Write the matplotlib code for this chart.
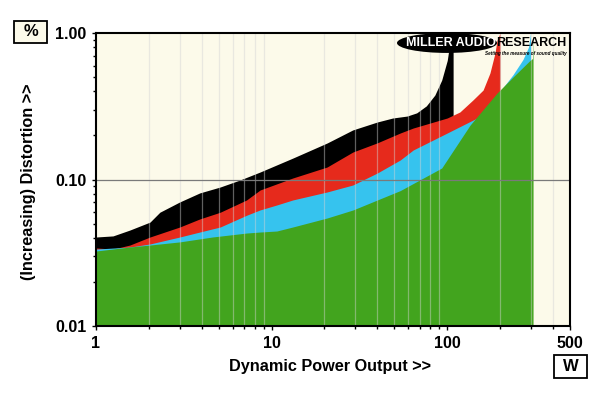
import matplotlib
matplotlib.use("Agg")
import matplotlib.pyplot as plt
from matplotlib.patches import Ellipse, Rectangle

plt.rcParams['font.family'] = ['Liberation Sans', 'DejaVu Sans']
plt.rcParams['font.weight'] = 'bold'

# power (W) and distortion (%), one pair of lists per trace
black_w = [1, 1.25, 1.56, 2.03, 2.31, 3.0, 3.9, 5.1, 6.6, 8.6, 13.2, 20.7, 29, 40, 49, 59,
           67, 76, 85, 93, 100, 104, 108]
black_pct = [0.0405, 0.0412, 0.0452, 0.0512, 0.0598, 0.0703, 0.081, 0.0889, 0.0992, 0.1125,
             0.140, 0.1775, 0.218, 0.247, 0.263, 0.271, 0.285, 0.318, 0.377, 0.477, 0.65,
             0.89, 1.0]

red_w = [1, 1.25, 1.56, 2.03, 3.0, 3.9, 5.1, 7.2, 8.6, 13.2, 20.7, 29, 40, 54, 64, 100,
         118, 140, 160, 175, 187, 192, 200]
red_pct = [0.0341, 0.0335, 0.0357, 0.0405, 0.0474, 0.0538, 0.0598, 0.0725, 0.0848, 0.1024,
           0.1217, 0.154, 0.178, 0.2077, 0.2246, 0.263, 0.289, 0.349, 0.408, 0.533, 0.73,
           0.89, 1.0]

blue_w = [1, 1.56, 2.03, 3.0, 3.9, 5.1, 7.2, 8.6, 10.7, 13.2, 20.7, 29, 40, 54, 64, 100,
          148, 200, 237, 270, 290, 298]
blue_pct = [0.0335, 0.0346, 0.0363, 0.0405, 0.0438, 0.0474, 0.057, 0.062, 0.067, 0.0725,
            0.0822, 0.0917, 0.1108, 0.1359, 0.159, 0.2077, 0.263, 0.40, 0.52, 0.66, 0.80, 1.0]

green_w = [1, 1.56, 2.03, 3.0, 4.6, 7.2, 8.6, 10.7, 13.2, 20.7, 29, 40, 54, 93, 135, 192,
           237, 296, 306, 308]
green_pct = [0.0325, 0.0346, 0.0357, 0.0375, 0.0405, 0.0431, 0.0438, 0.0445, 0.0474, 0.0546,
             0.0619, 0.0725, 0.084, 0.1198, 0.2355, 0.389, 0.501, 0.65, 0.67, 1.0]

x_ticks = [1, 10, 100, 500]
x_ticklabels = ["1", "10", "100", "500"]
y_ticks = [0.01, 0.1, 1.0]
y_ticklabels = ["0.01", "0.10", "1.00"]

fig = plt.figure(figsize=(6, 3.93), dpi=100)
ax = fig.add_axes([0.16, 0.1705, 0.79, 0.7455])
ax.set_facecolor("#fcfaea")

ax.set_xscale("log")
ax.set_yscale("log")
ax.set_xlim(1, 500)
ax.set_ylim(0.01, 1)

traces = [(black_w, black_pct, "#000000"),
          (red_w, red_pct, "#e62a1c"),
          (blue_w, blue_pct, "#36c3ee"),
          (green_w, green_pct, "#42a41e")]
for w, pct, c in traces:
    ax.fill_between(w, pct, 0.01, color=c, lw=0, zorder=2)

# grid on top of the fills, like the original
minor_x = [m * d for d in (1, 10, 100) for m in range(2, 10) if m * d < 500]
for xv in minor_x:
    ax.axvline(xv, color="#d4d4d4", lw=0.9, alpha=0.45, zorder=3)
ax.axhline(0.1, color="#7a7a7a", lw=0.9, zorder=3)

ax.set_xticks(x_ticks)
ax.set_xticklabels(x_ticklabels)
ax.set_yticks(y_ticks)
ax.set_yticklabels(y_ticklabels)
ax.set_xticks(minor_x, minor=True)
ax.set_xticklabels([], minor=True)
ax.tick_params(axis="both", which="major", labelsize=11.5, length=3, width=1, pad=4)
ax.tick_params(axis="both", which="minor", length=2.5, width=1)
for sp in ax.spines.values():
    sp.set_linewidth(1.5)
    sp.set_zorder(5)

fig.text(330 / 600, 1 - 366 / 393, "Dynamic Power Output >>", fontsize=11.7,
         fontweight="bold", ha="center", va="center")
fig.text(29 / 600, 1 - 182 / 393, "(Increasing) Distortion >>", fontsize=11.7,
         fontweight="bold", ha="center", va="center", rotation=90)

# unit boxes
fig.add_artist(Rectangle((14 / 600, 1 - 43 / 393), 33 / 600, 22 / 393, transform=fig.transFigure,
                         fc="#fcfaea", ec="black", lw=1.3))
fig.text(30.5 / 600, 1 - 32 / 393, "%", fontsize=12, ha="center", va="center")
fig.add_artist(Rectangle((554 / 600, 1 - 378 / 393), 33 / 600, 23 / 393, transform=fig.transFigure,
                         fc="white", ec="black", lw=1.3))
fig.text(570.5 / 600, 1 - 366.5 / 393, "W", fontsize=12, ha="center", va="center")

# logo
ax.add_patch(Ellipse((0.7405, 0.966), 0.211, 0.068, transform=ax.transAxes,
                     fc="black", ec="none", zorder=6))
ax.text(0.749, 0.966, "MILLER AUDIO", transform=ax.transAxes, color="white",
        fontsize=9, fontweight="heavy", ha="center", va="center", zorder=7)
ax.text(0.993, 0.966, "RESEARCH", transform=ax.transAxes, color="black",
        fontsize=9, fontweight="heavy", ha="right", va="center", zorder=7)
ax.text(0.993, 0.929, "Setting the measure of sound quality", transform=ax.transAxes,
        color="black", fontsize=3.3, fontweight="bold", style="italic",
        ha="right", va="center", zorder=7)

fig.savefig("out.png", dpi=100, facecolor="white")
